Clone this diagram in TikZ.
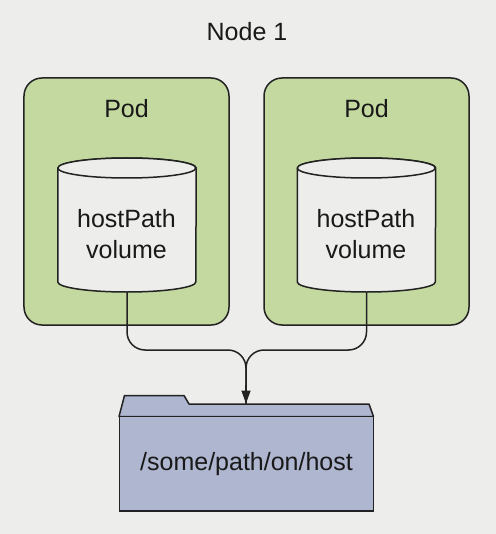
\documentclass[tikz,border=0pt]{standalone}
\usepackage{fontspec}
\setmainfont{Liberation Sans}
\usetikzlibrary{arrows.meta}
\definecolor{bgc}{HTML}{EDEDEB}
\definecolor{podc}{HTML}{C3D9A0}
\definecolor{foldc}{HTML}{AEB6D0}
\definecolor{linec}{HTML}{222222}
\tikzset{
  lbl/.style={font=\fontsize{25bp}{31.5bp}\selectfont,text=black!90,align=center,inner sep=0pt},
  podbox/.style={draw=linec,fill=podc,line width=1.5bp,rounded corners=18bp,minimum width=205bp,minimum height=247bp,inner sep=0pt},
  vol/.style={minimum width=138bp,minimum height=134bp,inner sep=0pt,lbl},
  volshape/.style={draw=linec,fill=bgc,line width=1.5bp,line join=round},
  link/.style={draw=linec,line width=1.5bp,rounded corners=18bp},
  foldbody/.style={draw=linec,fill=foldc,line width=1.8bp,minimum width=254bp,minimum height=94.5bp,inner sep=0pt,lbl}
}
\newcommand{\drawvol}[1]{%
  \draw[volshape] (#1.north west |- 0,168) -- (#1.south west |- 0,282)
    arc[start angle=180,end angle=360,x radius=69bp,y radius=10bp]
    -- (#1.north east |- 0,168)
    arc[start angle=0,end angle=180,x radius=69bp,y radius=10bp] -- cycle;
  \draw[volshape] (#1.north west |- 0,168)
    arc[start angle=180,end angle=540,x radius=69bp,y radius=10bp];
}
\begin{document}
\begin{tikzpicture}[x=1bp,y=-1bp]
\useasboundingbox (0,0) rectangle (496,534);
\fill[bgc] (0,0) rectangle (496,534);
\node[lbl] (title) at (247,31.5) {Node 1};
\node[podbox] (pod1) at (126.5,201.5) {};
\node[podbox] (pod2) at (366.5,201.5) {};
\node[lbl] (podl1) at (126.5,108.5) {Pod};
\node[lbl] (podl2) at (366.5,108.5) {Pod};
\node[vol] (vol1) at (127,225) {};
\node[vol] (vol2) at (366.5,225) {};
\drawvol{vol1}
\drawvol{vol2}
\node[lbl] (voll1) at (126.5,234) {hostPath\\volume};
\node[lbl] (voll2) at (366,234) {hostPath\\volume};
\fill[foldc,draw=linec,line width=1.5bp,line join=round] (119,416.5) -- (124.5,395.5) -- (184,395.5) -- (189,404) -- (369,404) -- (373.5,416.5) -- cycle;
\node[foldbody] (folder) at (246.5,463.75) {/some/path/on/host};
\coordinate (merge) at (246,350);
\coordinate (tabtop) at (246,403.5);
\draw[link] (vol1.south) -- (127,350) -- (merge) -- (tabtop);
\draw[link] (vol2.south) -- (366.5,350) -- (merge) -- (tabtop);
\draw[linec,line width=1.5bp,-{Triangle[length=13bp,width=9bp]}] (246,385) -- (tabtop);
\end{tikzpicture}
\end{document}
